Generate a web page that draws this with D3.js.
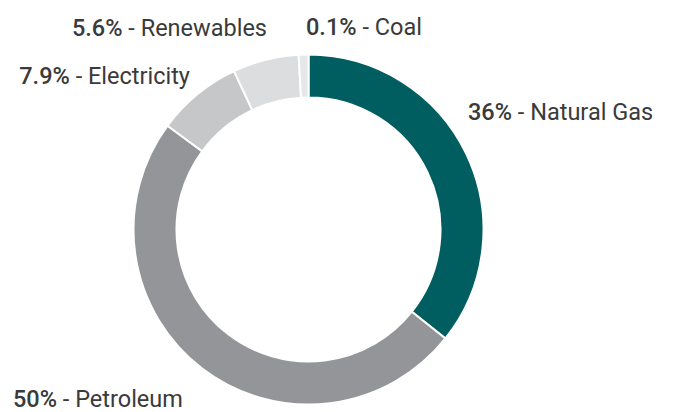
<!DOCTYPE html>
<html>
<head>
<meta charset="utf-8">
<script src="https://cdn.jsdelivr.net/npm/d3@7"></script>
<style>
  html, body { margin: 0; padding: 0; background: #fff; }
  svg { display: block; }
  text { font-family: Roboto, "Noto Sans", sans-serif; fill: #3a3a3a; }
</style>
</head>
<body>
<svg id="chart" width="673" height="412"></svg>
<script>
// ---- data ----
const categories = ["Natural Gas", "Petroleum", "Electricity", "Renewables", "Coal"];
const labelValues = ["36", "50", "7.9", "5.6", "0.1"];          // percentages printed in labels
const arcShares   = [35.7, 49.4, 7.9, 6.1, 0.9];                // slice sizes as drawn
const colors      = ["#005d60", "#939598", "#c6c7c9", "#dcdddf", "#e6e7e9"];

// ---- layout ----
const W = 673, H = 412;
const cx = 308.5, cy = 229.5, outerR = 175, innerR = 132;
// label anchor positions (layout only)
const labelPos = [
  { x: 468, y: 120, anchor: "start" },
  { x: 13,  y: 407, anchor: "start" },
  { x: 190, y: 84,  anchor: "end" },
  { x: 267, y: 36,  anchor: "end" },
  { x: 306, y: 35,  anchor: "start" }
];

const data = categories.map((c, i) => ({ name: c, label: labelValues[i], share: arcShares[i], color: colors[i], pos: labelPos[i] }));

const svg = d3.select("#chart");
const g = svg.append("g").attr("transform", `translate(${cx},${cy})`);

const pie = d3.pie().value(d => d.share).sort(null);
const arc = d3.arc().innerRadius(innerR).outerRadius(outerR);

g.selectAll("path")
  .data(pie(data))
  .join("path")
  .attr("d", arc)
  .attr("fill", d => d.data.color)
  .attr("stroke", "#fff")
  .attr("stroke-width", 2)
  .attr("stroke-linejoin", "miter");

const labels = svg.selectAll("text.lbl")
  .data(data)
  .join("text")
  .attr("class", "lbl")
  .attr("x", d => d.pos.x)
  .attr("y", d => d.pos.y)
  .attr("text-anchor", d => d.pos.anchor)
  .style("font-size", "23.5px");

labels.append("tspan").style("font-weight", "500").text(d => d.label + "%");
labels.append("tspan").style("font-weight", "400").text(d => " - " + d.name);
</script>
</body>
</html>
